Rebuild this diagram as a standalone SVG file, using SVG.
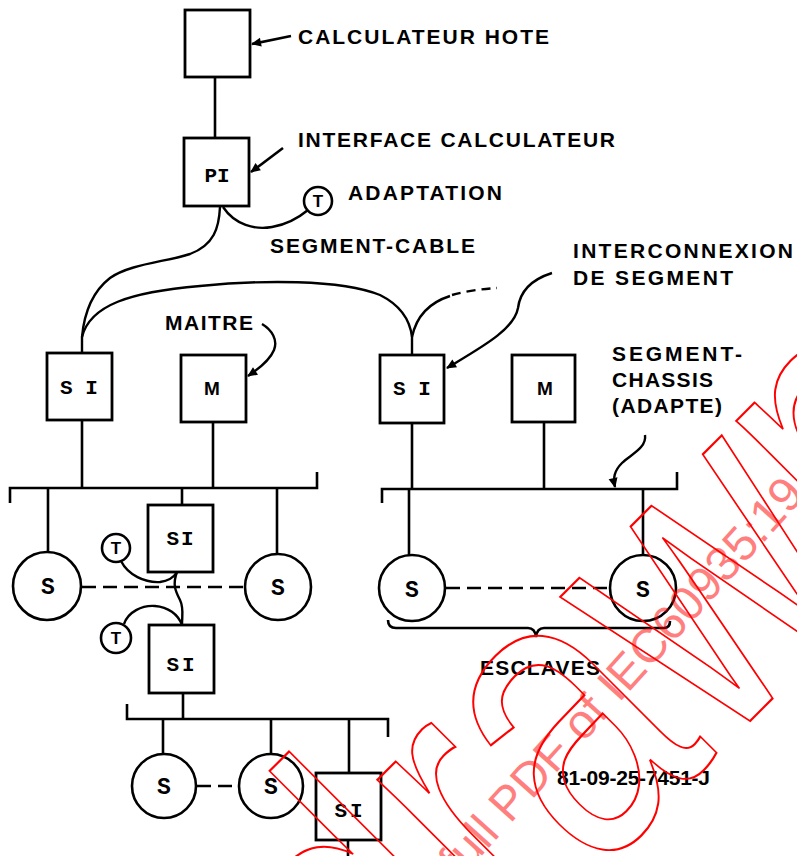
<svg xmlns="http://www.w3.org/2000/svg" width="797" height="856" viewBox="0 0 797 856">
<style>
.bx{fill:#fff;stroke:#000;stroke-width:2.8}
.ci{fill:#fff;stroke:#000;stroke-width:2.6}
.ln{fill:none;stroke:#000;stroke-width:2.6}
.cv{fill:none;stroke:#000;stroke-width:2.4}
.ds{fill:none;stroke:#000;stroke-width:2.6;stroke-dasharray:14 7}
.lb{font-family:"Liberation Sans",Arial,sans-serif;font-size:21px;font-weight:bold;fill:#000}
.bl{font-family:"Liberation Mono","Courier New",monospace;font-size:21px;font-weight:bold;fill:#000;text-anchor:middle}
.sl{font-family:"Liberation Mono","Courier New",monospace;font-size:23px;font-weight:bold;fill:#000;text-anchor:middle}
.ml{font-family:"Liberation Sans",Arial,sans-serif;font-size:19px;font-weight:bold;fill:#000;text-anchor:middle}
.tl{font-family:"Liberation Sans",Arial,sans-serif;font-size:17px;font-weight:bold;fill:#000;text-anchor:middle}
.wm{font-family:"Liberation Sans",Arial,sans-serif;font-size:420px;fill:none;stroke:#f00;stroke-width:2.2}
.wf{font-family:"Liberation Sans",Arial,sans-serif;font-size:48px;fill:#f00;fill-opacity:0.5}
</style>
<defs>
<marker id="ah" markerUnits="userSpaceOnUse" viewBox="0 0 10 10" refX="9" refY="5" markerWidth="13" markerHeight="10" orient="auto">
<path d="M0,0.5 L10,5 L0,9.5 z" fill="#000"/>
</marker>
</defs>
<rect width="797" height="856" fill="#fff"/>

<g id="connectors">
<path class="ln" d="M215,77 V138"/>
<path class="cv" d="M223,207 C235,225 255,230 272,227 C290,224 302,215 308,210"/>
<path class="cv" d="M220,207 C219,228 214,245 190,254 C165,262 130,264 110,278 C92,292 84,315 82,337 V353"/>
<path class="cv" d="M82,337 C90,305 130,292 200,286 C260,280 340,279 380,295 C400,305 410,320 412,337 V355"/>
<path class="cv" d="M412,337 C416,318 428,303 450,296"/>
<path class="cv" stroke-dasharray="9 6" d="M452,295 C466,291 482,289 497,288"/>
<path class="ln" d="M10,503 V488 H317 V472"/>
<path class="ln" d="M82,420 V488 M213,422 V488 M48,488 V552 M182,488 V505 M277,488 V554"/>
<path class="ds" d="M82,587 H244"/>
<path class="cv" d="M121,561 C128,575 145,583 160,582 C168,581 174,577 177,572"/>
<path class="cv" d="M177,572 C172,585 176,592 180,600 C184,608 182,615 182,625"/>
<path class="cv" d="M124,624 C128,612 142,605 155,606 C168,607 178,614 182,625"/>
<path class="ln" d="M183,693 V719"/>
<path class="ln" d="M127,704 V719 H388 V737"/>
<path class="ln" d="M163,719 V754 M271,719 V754 M349,719 V773 M348,840 V856"/>
<path class="ds" d="M197,786 H239"/>
<path class="ln" d="M382,503 V489 H677 V472"/>
<path class="ln" d="M412,423 V489 M544,422 V489 M409,489 V555 M643,489 V555"/>
<path class="ds" d="M446,588 H610"/>
<path class="ln" d="M388,620 Q388,628 396,628 H528 Q535,628 536,637 Q537,628 544,628 H664 Q670,628 670,621"/>
<path class="ln" marker-end="url(#ah)" d="M291,36 L252,44"/>
<path class="ln" marker-end="url(#ah)" d="M283,148 L251,172"/>
<path class="cv" marker-end="url(#ah)" d="M552,273 C530,280 520,292 518,308 C514,330 480,348 447,368"/>
<path class="cv" marker-end="url(#ah)" d="M262,324 C272,330 278,340 274,350 C270,360 260,368 248,376"/>
<path class="cv" marker-end="url(#ah)" d="M645,435 C647,448 630,455 622,463 C614,471 613,478 615,487"/>
</g>

<g id="host"><rect class="bx" x="185" y="10" width="65" height="67"/></g>
<g id="pi"><rect class="bx" x="184" y="138" width="65" height="68"/><text class="bl" x="217" y="182" font-size="22">PI</text></g>
<g id="t0"><circle class="ci" cx="318" cy="201" r="14"/><text class="tl" x="318" y="207">T</text></g>
<g id="si1"><rect class="bx" x="47" y="353" width="65" height="67"/><text class="bl" x="79" y="394">S I</text></g>
<g id="m1"><rect class="bx" x="181" y="355" width="65" height="67"/><text class="ml" x="212" y="395">M</text></g>
<g id="si2"><rect class="bx" x="380" y="355" width="64" height="68"/><text class="bl" x="412" y="395">S I</text></g>
<g id="m2"><rect class="bx" x="512" y="355" width="63" height="67"/><text class="ml" x="545" y="395">M</text></g>
<g id="s1"><circle class="ci" cx="47" cy="586" r="34"/><text class="sl" x="48" y="594">S</text></g>
<g id="s2"><circle class="ci" cx="278" cy="587" r="33"/><text class="sl" x="278" y="595">S</text></g>
<g id="si3"><rect class="bx" x="148" y="505" width="65" height="67"/><text class="bl" x="181" y="545" letter-spacing="2">SI</text></g>
<g id="t1"><circle class="ci" cx="116" cy="548" r="14"/><text class="tl" x="116" y="554">T</text></g>
<g id="t2"><circle class="ci" cx="116" cy="638" r="15"/><text class="tl" x="116" y="644">T</text></g>
<g id="si4"><rect class="bx" x="149" y="625" width="65" height="68"/><text class="bl" x="182" y="671" letter-spacing="3">SI</text></g>
<g id="s3"><circle class="ci" cx="164" cy="786" r="32"/><text class="sl" x="164" y="794">S</text></g>
<g id="s4"><circle class="ci" cx="271" cy="786" r="32"/><text class="sl" x="271" y="794">S</text></g>
<g id="si5"><rect class="bx" x="316" y="773" width="65" height="67"/><text class="bl" x="350" y="817" letter-spacing="3">SI</text></g>
<g id="s5"><circle class="ci" cx="412" cy="588" r="33"/><text class="sl" x="412" y="597">S</text></g>
<g id="s6"><circle class="ci" cx="643" cy="588" r="33"/><text class="sl" x="643" y="597">S</text></g>

<g id="labels">
<text class="lb" x="298" y="44" textLength="251" lengthAdjust="spacing">CALCULATEUR HOTE</text>
<text class="lb" x="298" y="147" textLength="317" lengthAdjust="spacing">INTERFACE CALCULATEUR</text>
<text class="lb" x="348" y="200" textLength="154" lengthAdjust="spacing">ADAPTATION</text>
<text class="lb" x="270" y="253" textLength="205" lengthAdjust="spacing">SEGMENT-CABLE</text>
<text class="lb" x="573" y="258" textLength="220" lengthAdjust="spacing">INTERCONNEXION</text>
<text class="lb" x="573" y="285" textLength="160" lengthAdjust="spacing">DE SEGMENT</text>
<text class="lb" x="165" y="330" textLength="88" lengthAdjust="spacing">MAITRE</text>
<text class="lb" x="612" y="361" textLength="130" lengthAdjust="spacing">SEGMENT-</text>
<text class="lb" x="612" y="387" textLength="101" lengthAdjust="spacing">CHASSIS</text>
<text class="lb" x="612" y="413" textLength="110" lengthAdjust="spacing">(ADAPTE)</text>
<text class="lb" x="480" y="675" textLength="120" lengthAdjust="spacing">ESCLAVES</text>
<text class="lb" x="557" y="785" font-size="13" textLength="153" lengthAdjust="spacing">81-09-25-7451-J</text>
</g>

<g id="watermark">
<text class="wf" transform="translate(460,880) rotate(-48)">full PDF of IEC60935:19</text>
<text class="wm" transform="translate(-50,1521) rotate(-45) scale(0.75,1)">Withdrawn</text>
</g>
</svg>
